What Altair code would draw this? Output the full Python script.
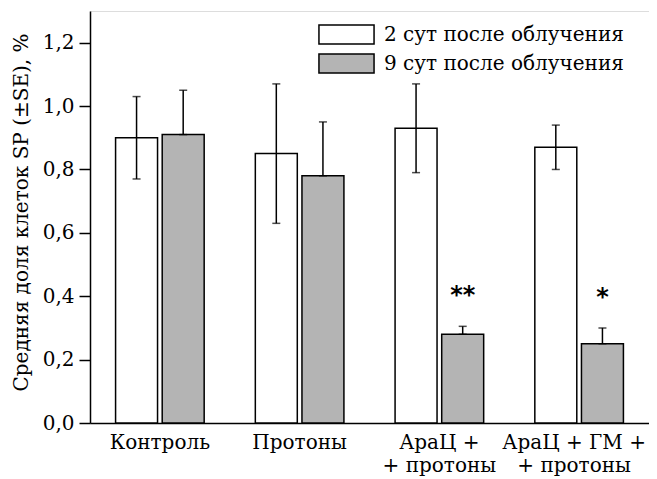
import altair as alt
import pandas as pd

groups = ["Контроль", "Протоны", "АраЦ +|+ протоны", "АраЦ + ГМ +|+ протоны"]
series = ["2 сут после облучения", "9 сут после облучения"]
day2_mean = [0.90, 0.85, 0.93, 0.87]
day2_err = [0.13, 0.22, 0.14, 0.07]
day9_mean = [0.91, 0.78, 0.28, 0.25]
day9_err = [0.14, 0.17, 0.025, 0.05]
stars = ["", "", "**", "*"]
star_pos = [None, None, 0.40, 0.395]
y_ticks = [0.0, 0.1, 0.2, 0.3, 0.4, 0.5, 0.6, 0.7, 0.8, 0.9, 1.0, 1.1, 1.2]

FONT = "DejaVu Serif"
FS = 20

rows = []
for i, g in enumerate(groups):
    rows.append({"group": g, "series": series[0], "mean": day2_mean[i],
                 "lo": day2_mean[i] - day2_err[i], "hi": day2_mean[i] + day2_err[i]})
    rows.append({"group": g, "series": series[1], "mean": day9_mean[i],
                 "lo": day9_mean[i], "hi": day9_mean[i] + day9_err[i]})
df = pd.DataFrame(rows)

star_df = pd.DataFrame({"group": groups, "series": [series[1]] * 4,
                        "star": stars, "pos": star_pos}).dropna()

x_scale = alt.Scale(domain=groups, paddingInner=0.366, paddingOuter=0.183)
xo_scale = alt.Scale(domain=series, paddingInner=0.1, paddingOuter=0)
y_scale = alt.Scale(domain=[0, 1.3], nice=False, zero=True)

major = "round(datum.value*10) % 2 == 0"

x_enc = alt.X("group:N", scale=x_scale, sort=groups, axis=alt.Axis(
    title=None, labelAngle=0, ticks=False,
    labelExpr="split(datum.label, '|')", labelFont=FONT, labelFontSize=FS,
    labelLineHeight=23.5, labelPadding=9, labelColor="black",
    labelOffset={"condition": {"test": "indexof(datum.value, 'ГМ') >= 0", "value": -5}, "value": 0},
    domainColor="black", domainWidth=1.5, labelBaseline="top"))
xo_enc = alt.XOffset("series:N", scale=xo_scale, sort=series)
y_enc = alt.Y("mean:Q", scale=y_scale, axis=alt.Axis(
    title="Средняя доля клеток SP (±SE), %", values=y_ticks,
    labelExpr=f"{major} ? replace(format(datum.value, '.1f'), '.', ',') : ''",
    tickSize={"condition": {"test": major, "value": 11}, "value": 6},
    tickColor="black", tickWidth=1.5, domainColor="black", domainWidth=1.5,
    labelFont=FONT, labelFontSize=FS, labelColor="black", labelPadding=5,
    titleFont=FONT, titleFontSize=FS, titleFontWeight="normal", titleColor="black",
    titleAngle=-90, titleX=-69, titleY=201, titleAlign="center", titleBaseline="middle",
    grid=False))

bars = alt.Chart(df).mark_bar(stroke="black", strokeWidth=1.5).encode(
    x=x_enc, xOffset=xo_enc, y=y_enc,
    fill=alt.Fill("series:N", scale=alt.Scale(domain=series, range=["white", "#b4b4b4"]),
                  legend=alt.Legend(
                      title=None, orient="none", legendX=246, legendY=13,
                      symbolType="M-2.9,-1 L2.9,-1 L2.9,1 L-2.9,1 Z", symbolSize=361,
                      symbolStrokeColor="black", symbolStrokeWidth=1.5,
                      labelFont=FONT, labelFontSize=FS, labelColor="black",
                      labelOffset=27, rowPadding=4, padding=0, labelLimit=400))
)

err = alt.Chart(df).mark_rule(color="black", strokeWidth=1.5).encode(
    x=alt.X("group:N", scale=x_scale, sort=groups), xOffset=xo_enc,
    y=alt.Y("lo:Q", scale=y_scale), y2="hi:Q")
cap_hi = alt.Chart(df).mark_tick(color="black", thickness=1.5, size=8).encode(
    x=alt.X("group:N", scale=x_scale, sort=groups), xOffset=xo_enc,
    y=alt.Y("hi:Q", scale=y_scale))
cap_lo = alt.Chart(df).mark_tick(color="black", thickness=1.5, size=8).encode(
    x=alt.X("group:N", scale=x_scale, sort=groups), xOffset=xo_enc,
    y=alt.Y("lo:Q", scale=y_scale))

star_layer = alt.Chart(star_df).mark_text(
    font="DejaVu Sans", fontSize=24, fontWeight="bold", baseline="middle", color="black"
).encode(x=alt.X("group:N", scale=x_scale, sort=groups), xOffset=xo_enc,
         y=alt.Y("pos:Q", scale=y_scale), text="star:N")

chart = alt.layer(bars, err, cap_hi, cap_lo, star_layer).properties(
    width=559, height=412,
    autosize=alt.AutoSizeParams(type="none"),
    padding={"left": 82, "top": 3, "right": 0, "bottom": 56},
).configure_view(stroke="black", strokeWidth=1.5).configure(background="white")

chart.save("out.html", embed_options={"renderer": "svg", "actions": False})
